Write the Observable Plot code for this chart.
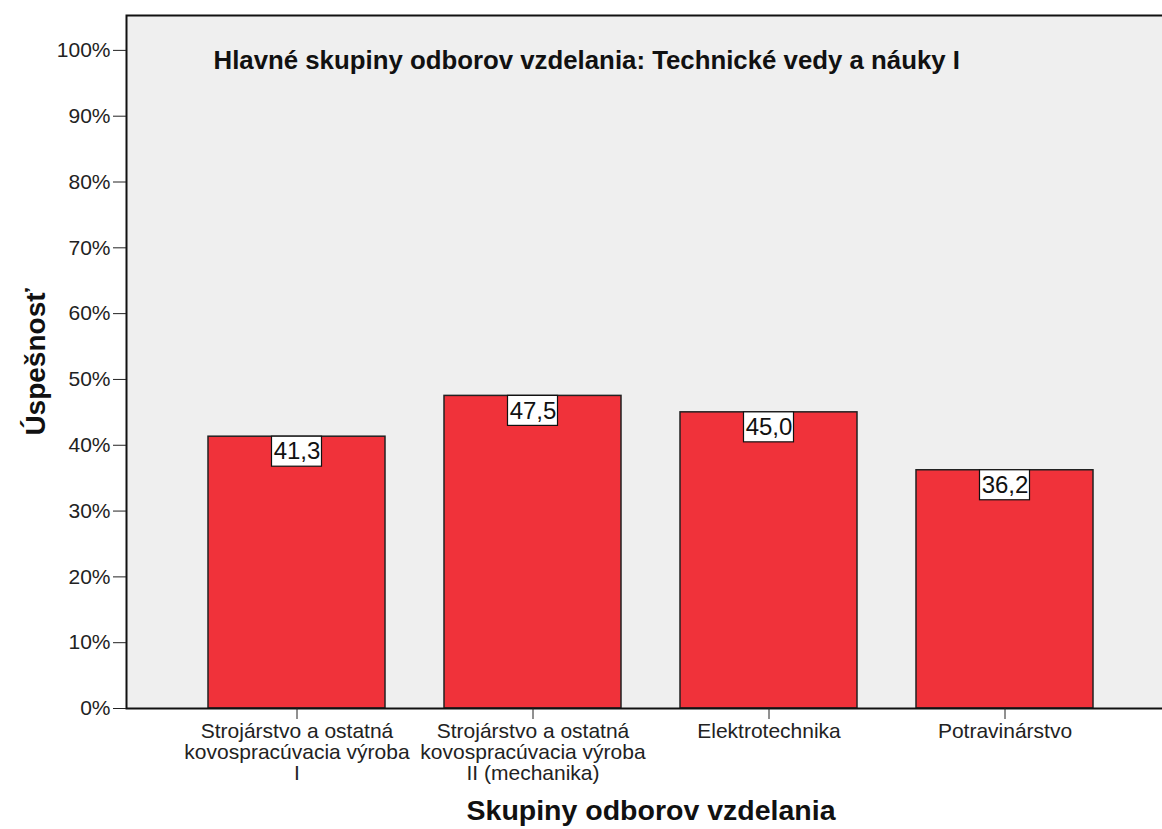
<!DOCTYPE html>
<html><head><meta charset="utf-8">
<script src="https://cdn.jsdelivr.net/npm/d3@7"></script>
<script src="https://cdn.jsdelivr.net/npm/@observablehq/plot@0.6"></script>
<style>html,body{margin:0;padding:0;background:#fff;overflow:hidden;} svg{max-width:none !important;}</style>
</head><body><div id="chart"></div>
<script>
const categories = [
  "Strojárstvo a ostatná\nkovospracúvacia výroba\nI",
  "Strojárstvo a ostatná\nkovospracúvacia výroba\nII (mechanika)",
  "Elektrotechnika",
  "Potravinárstvo"
];
const values = [41.3, 47.5, 45.0, 36.2];
const yTicks = [0, 10, 20, 30, 40, 50, 60, 70, 80, 90, 100];
const title = "Hlavné skupiny odborov vzdelania: Technické vedy a náuky I";
const yLabel = "Úspešnosť";
const xLabel = "Skupiny odborov vzdelania";

const data = categories.map((c, i) => ({cat: c, value: values[i]}));
const fmt = v => v.toFixed(1).replace(".", ",");

const chart = Plot.plot({
  width: 1175, height: 829,
  marginLeft: 126, marginRight: 0, marginTop: 15, marginBottom: 121,
  style: {fontFamily: "'Liberation Sans', Arial, sans-serif", background: "white", color: "#222", maxWidth: "none"},
  x: {domain: categories, paddingInner: 0.25, paddingOuter: 0.347},
  y: {domain: [0, 105.3]},
  marks: [
    Plot.frame({fill: "#efefef"}),
    Plot.barY(data, {x: "cat", y: "value", fill: "#f0323a", stroke: "#222", strokeWidth: 1.5}),
    Plot.barY(data, {x: "cat", y1: "value", y2: "value", insetLeft: 63.5, insetRight: 63.5, insetBottom: -30, fill: "white", stroke: "#111", strokeWidth: 1.2}),
    Plot.text(data, {x: "cat", y: "value", dy: 15, text: d => fmt(d.value), fontSize: 24, fill: "#111"}),
    Plot.frame({stroke: "#111", strokeWidth: 2}),
    Plot.axisY({ticks: yTicks, tickFormat: d => d + "%", tickSize: 13, tickPadding: 3, fontSize: 21, label: null}),
    Plot.axisX({tickSize: 11, tickPadding: 4, fontSize: 21, label: null, lineHeight: 1.0}),
    Plot.text([title], {text: d => d, frameAnchor: "top-left", dx: 87, dy: 45, textAnchor: "start", lineAnchor: "middle", fontWeight: "bold", fontSize: 25.8, fill: "#111"}),
    Plot.text([yLabel], {text: d => d, frameAnchor: "left", dx: -90, rotate: -90, textAnchor: "middle", lineAnchor: "middle", fontWeight: "bold", fontSize: 28, fill: "#111"}),
    Plot.text([xLabel], {text: d => d, frameAnchor: "bottom", dy: 102, textAnchor: "middle", lineAnchor: "middle", fontWeight: "bold", fontSize: 28.5, fill: "#111"})
  ]
});
document.getElementById("chart").appendChild(chart);
</script>
</body></html>
